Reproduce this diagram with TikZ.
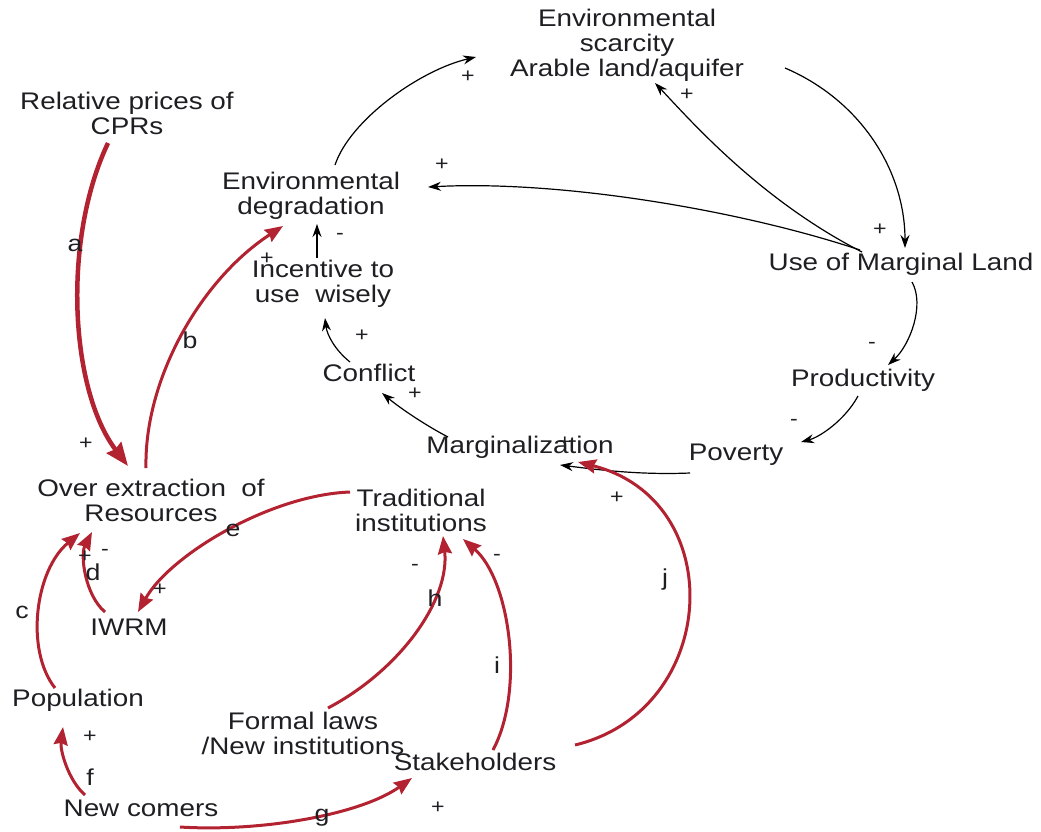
\documentclass[tikz,border=0pt]{standalone}
\usepackage{fontspec}
\setmainfont{Liberation Sans}[FakeStretch=1.16]
\usetikzlibrary{arrows.meta}
\definecolor{cldred}{RGB}{178,34,48}
\definecolor{txtc}{RGB}{30,30,35}
\begin{document}
\begin{tikzpicture}[x=1pt,y=-1pt,
  var/.style={inner sep=0pt, align=center, text=txtc, font=\fontsize{24}{25}\selectfont},
  sgn/.style={inner sep=0pt, text=txtc, font=\fontsize{20}{20}\selectfont},
  ltr/.style={inner sep=0pt, text=txtc, font=\fontsize{23}{23}\selectfont},
  blk/.style={draw=black, line width=1.2pt, -{Stealth[length=13pt,width=9pt]}},
  red/.style={draw=cldred, line width=3pt, -{Stealth[length=18pt,width=14pt,inset=2pt]}},
  redthick/.style={draw=cldred, line width=4.5pt, -{Stealth[length=23pt,width=18pt,inset=2pt]}}
]
\useasboundingbox (0,0) rectangle (1041,831);
% variables
\node[var] (envs) at (627,45) {Environmental\\scarcity\\Arable land/aquifer};
\node[var] (relp) at (127,113) {Relative prices of\\CPRs};
\node[var] (envd) at (311,196) {Environmental\\degradation};
\node[var] (incent) at (323,284) {Incentive to\\use\ \ wisely};
\node[var] (uml) at (901,264) {Use of Marginal Land};
\node[var] (confl) at (369,373) {Conflict};
\node[var] (prod) at (863,380) {Productivity};
\node[var] (marg) at (520,447) {Marginalization};
\node[var] (pov) at (736,455) {Poverty};
\node[var] (overx) at (151,500) {Over extraction\ \ of\\Resources};
\node[var] (trad) at (421,510) {Traditional\\institutions};
\node[var] (iwrm) at (129,627) {IWRM};
\node[var] (pop) at (78,700) {Population};
\node[var] (formal) at (303,733) {Formal laws\\/New institutions};
\node[var] (stake) at (475,762) {Stakeholders};
\node[var] (newc) at (141,808) {New comers};

% black links
\draw[blk] ([shift={(24,-31)}]envd.center) .. controls (350,120) and (420,70) .. ([shift={(-151,12)}]envs.center);
\draw[blk] ([shift={(158,23)}]envs.center) .. controls (860,100) and (905,170) .. ([shift={(4,-16)}]uml.center);
\draw[blk] ([shift={(-39,-12)}]uml.center) .. controls (760,200) and (690,120) .. ([shift={(28,38)}]envs.center);
\draw[blk] ([shift={(-41,-14)}]uml.center) .. controls (740,210) and (560,180) .. ([shift={(117,-9)}]envd.center);
\draw[blk] ([shift={(11,18)}]uml.center) .. controls (925,305) and (910,345) .. ([shift={(25,-15)}]prod.center);
\draw[blk] ([shift={(-5,16)}]prod.center) .. controls (845,420) and (820,437) .. ([shift={(65,-13)}]pov.center);
\draw[blk] ([shift={(-46,18)}]pov.center) .. controls (640,475) and (600,470) .. ([shift={(40,18)}]marg.center);
\draw[blk] ([shift={(-72,-10)}]marg.center) .. controls (425,425) and (400,408) .. ([shift={(13,20)}]confl.center);
\draw[blk] ([shift={(-19,-11)}]confl.center) .. controls (335,350) and (327,335) .. ([shift={(2,34)}]incent.center);
\draw[blk] ([shift={(-6,-26)}]incent.center) -- ([shift={(6,28)}]envd.center);

% red links
\draw[redthick] ([shift={(-19,30)}]relp.center) .. controls (62,240) and (70,390) .. ([shift={(-23,-34)}]overx.center);
\draw[red] ([shift={(-5,-32)}]overx.center) .. controls (144,380) and (200,280) .. ([shift={(-28,30)}]envd.center);
\draw[red] ([shift={(-23,-12)}]pop.center) .. controls (25,650) and (35,570) .. ([shift={(-71,33)}]overx.center);
\draw[red] ([shift={(-24,-15)}]iwrm.center) .. controls (85,595) and (80,555) .. ([shift={(-59,32)}]overx.center);
\draw[red] ([shift={(-71,-18)}]trad.center) .. controls (270,495) and (170,555) .. ([shift={(9,-15)}]iwrm.center);
\draw[red] ([shift={(-56,-13)}]newc.center) .. controls (68,780) and (60,750) .. ([shift={(-15,27)}]pop.center);
\draw[red] ([shift={(39,19)}]newc.center) .. controls (260,832) and (360,815) .. ([shift={(-63,16)}]stake.center);
\draw[red] ([shift={(25,-25)}]formal.center) .. controls (400,670) and (450,600) .. ([shift={(22,26)}]trad.center);
\draw[red] ([shift={(18,-12)}]stake.center) .. controls (525,690) and (510,580) .. ([shift={(42,29)}]trad.center);
\draw[red] ([shift={(100,-17)}]stake.center) .. controls (720,710) and (730,500) .. ([shift={(58,15)}]marg.center);

% polarity signs
\node[sgn] (s1) at (468,77) {+};
\node[sgn] (s2) at (687,95) {+};
\node[sgn] (s3) at (442,165) {+};
\node[sgn] (s4) at (880,230) {+};
\node[sgn] (s5) at (872,345) {-};
\node[sgn] (s6) at (794,422) {-};
\node[sgn] (s7) at (565,443) {+};
\node[sgn] (s8) at (415,394) {+};
\node[sgn] (s9) at (362,336) {+};
\node[sgn] (s10) at (340,236) {-};
\node[sgn] (s11) at (267,259) {+};
\node[sgn] (s12) at (86,444) {+};
\node[sgn] (s13) at (85,557) {+};
\node[sgn] (s14) at (105,552) {-};
\node[sgn] (s15) at (160,590) {+};
\node[sgn] (s16) at (90,737) {+};
\node[sgn] (s17) at (438,808) {+};
\node[sgn] (s18) at (415,567) {-};
\node[sgn] (s19) at (497,557) {-};
\node[sgn] (s20) at (617,498) {+};

% link letters
\node[ltr] (la) at (75,245) {a};
\node[ltr] (lb) at (190,340) {b};
\node[ltr] (lc) at (22,612) {c};
\node[ltr] (ld) at (93,572) {d};
\node[ltr] (le) at (233,530) {e};
\node[ltr] (lf) at (90,777) {f};
\node[ltr] (lg) at (322,818) {g};
\node[ltr] (lh) at (435,598) {h};
\node[ltr] (li) at (497,665) {i};
\node[ltr] (lj) at (665,580) {j};
\end{tikzpicture}
\end{document}
